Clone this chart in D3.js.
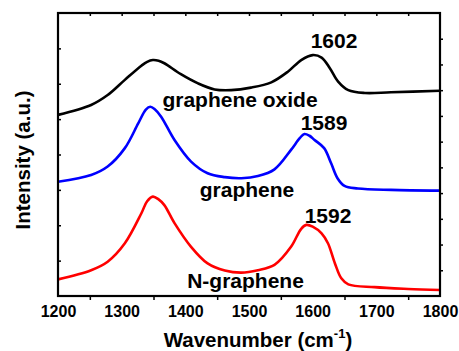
<!DOCTYPE html>
<html><head><meta charset="utf-8">
<script src="https://cdn.jsdelivr.net/npm/d3@7/dist/d3.min.js"></script>
<style>body{margin:0;background:#fff}svg{display:block}text{font-family:"Liberation Sans",Arial,sans-serif;font-weight:bold}</style>
</head><body><svg id="c" width="459" height="351"></svg>
<script>
const goWavenumber = [1200,1252,1278,1305,1331,1340,1349,1358,1367,1393,1420,1446,1472,1503,1535,1561,1582,1600,1614,1627,1640,1656,1682,1723,1800];
const goIntensity  = [5.12,5.40,5.68,6.11,6.51,6.62,6.67,6.65,6.58,6.27,6.01,5.84,5.82,5.89,6.04,6.34,6.67,6.81,6.74,6.44,6.06,5.82,5.74,5.76,5.80];
const gWavenumber  = [1200,1252,1278,1305,1326,1338,1345,1352,1362,1383,1409,1435,1462,1488,1514,1540,1566,1580,1587,1595,1603,1618,1629,1639,1650,1671,1723,1800];
const gIntensity   = [3.23,3.42,3.66,4.18,4.88,5.27,5.35,5.28,5.07,4.41,3.80,3.47,3.36,3.33,3.39,3.58,4.13,4.47,4.58,4.53,4.41,4.18,3.75,3.33,3.11,3.04,3.00,2.98];
const ngWavenumber = [1200,1252,1278,1305,1331,1340,1349,1358,1367,1383,1409,1435,1462,1488,1514,1540,1566,1582,1590,1600,1614,1624,1635,1645,1656,1697,1750,1800];
const ngIntensity  = [0.47,0.73,0.97,1.49,2.34,2.68,2.81,2.73,2.57,2.06,1.39,0.92,0.72,0.66,0.73,0.88,1.39,1.90,2.01,1.96,1.77,1.49,0.92,0.50,0.33,0.25,0.20,0.17];
const seriesNames = ["graphene oxide","graphene","N-graphene"];
const seriesColors = ["#000000","#0000ff","#ff0000"];
const peakLabels = ["1602","1589","1592"];
const xTicks = [1200,1300,1400,1500,1600,1700,1800];

const svg = d3.select("#c");
const L=58,R=440,T=13,B=296;
const x = d3.scaleLinear().domain([1200,1800]).range([L,R]);
const y = d3.scaleLinear().domain([0,8]).range([B,T]);
const series=[[goWavenumber,goIntensity],[gWavenumber,gIntensity],[ngWavenumber,ngIntensity]];
const line = d3.line().x(d=>x(d[0])).y(d=>y(d[1])).curve(d3.curveCatmullRom.alpha(0.5));
series.forEach((s,i)=>{
  svg.append("path").datum(s[0].map((w,j)=>[w,s[1][j]]))
    .attr("d",line).attr("fill","none").attr("stroke",seriesColors[i]).attr("stroke-width",2.6)
    .attr("stroke-linejoin","round");
});
const gBottom = svg.append("g").attr("transform",`translate(0,${B})`)
  .call(d3.axisBottom(x).tickValues(d3.range(1250,1800,100)).tickSize(4).tickFormat(""));
const gBottomLab = svg.append("g").attr("transform",`translate(0,${B})`)
  .call(d3.axisBottom(x).tickValues(xTicks).tickSize(0).tickPadding(10).tickFormat(d3.format("d")));
gBottomLab.selectAll("text").attr("font-size",16).attr("fill","#000");
const gTop = svg.append("g").attr("transform",`translate(0,${T})`)
  .call(d3.axisTop(x).tickValues(d3.range(1250,1800,50)).tickSize(-3).tickFormat(""));
const gLeft = svg.append("g").attr("transform",`translate(${L},0)`)
  .call(d3.axisLeft(y).tickValues(d3.range(1,8)).tickSize(-3).tickFormat(""));
const gRight = svg.append("g").attr("transform",`translate(${R},0)`)
  .call(d3.axisRight(y).tickValues(d3.range(1,11).map(k=>k*8/11)).tickSize(3).tickFormat(""));
[gBottom,gBottomLab,gTop,gLeft,gRight].forEach(g=>{
  g.select(".domain").remove();
  g.selectAll("line").attr("stroke","#000").attr("stroke-width",1.5);
});
svg.append("rect").attr("x",L).attr("y",T).attr("width",R-L).attr("height",B-T)
  .attr("fill","none").attr("stroke","#000").attr("stroke-width",2.2);
const xt = svg.append("text").attr("x",258).attr("y",347).attr("text-anchor","middle").attr("font-size",20.5);
xt.append("tspan").text("Wavenumber (cm");
xt.append("tspan").attr("font-size",13).attr("dy",-9).text("-1");
xt.append("tspan").attr("dy",9).text(")");
svg.append("text").attr("transform",`translate(30,160) rotate(-90)`).attr("text-anchor","middle")
  .attr("font-size",20.5).text("Intensity (a.u.)");
const ann=[[peakLabels[0],334,48],[peakLabels[1],324,130],[peakLabels[2],328,223]];
ann.forEach(a=>svg.append("text").attr("x",a[1]).attr("y",a[2]).attr("text-anchor","middle").attr("font-size",21).text(a[0]));
const nameAt=[[240,107],[247,197],[245.5,288]];
seriesNames.forEach((n,i)=>svg.append("text").attr("x",nameAt[i][0]).attr("y",nameAt[i][1]).attr("text-anchor","middle").attr("font-size",21).text(n));
</script></body></html>
